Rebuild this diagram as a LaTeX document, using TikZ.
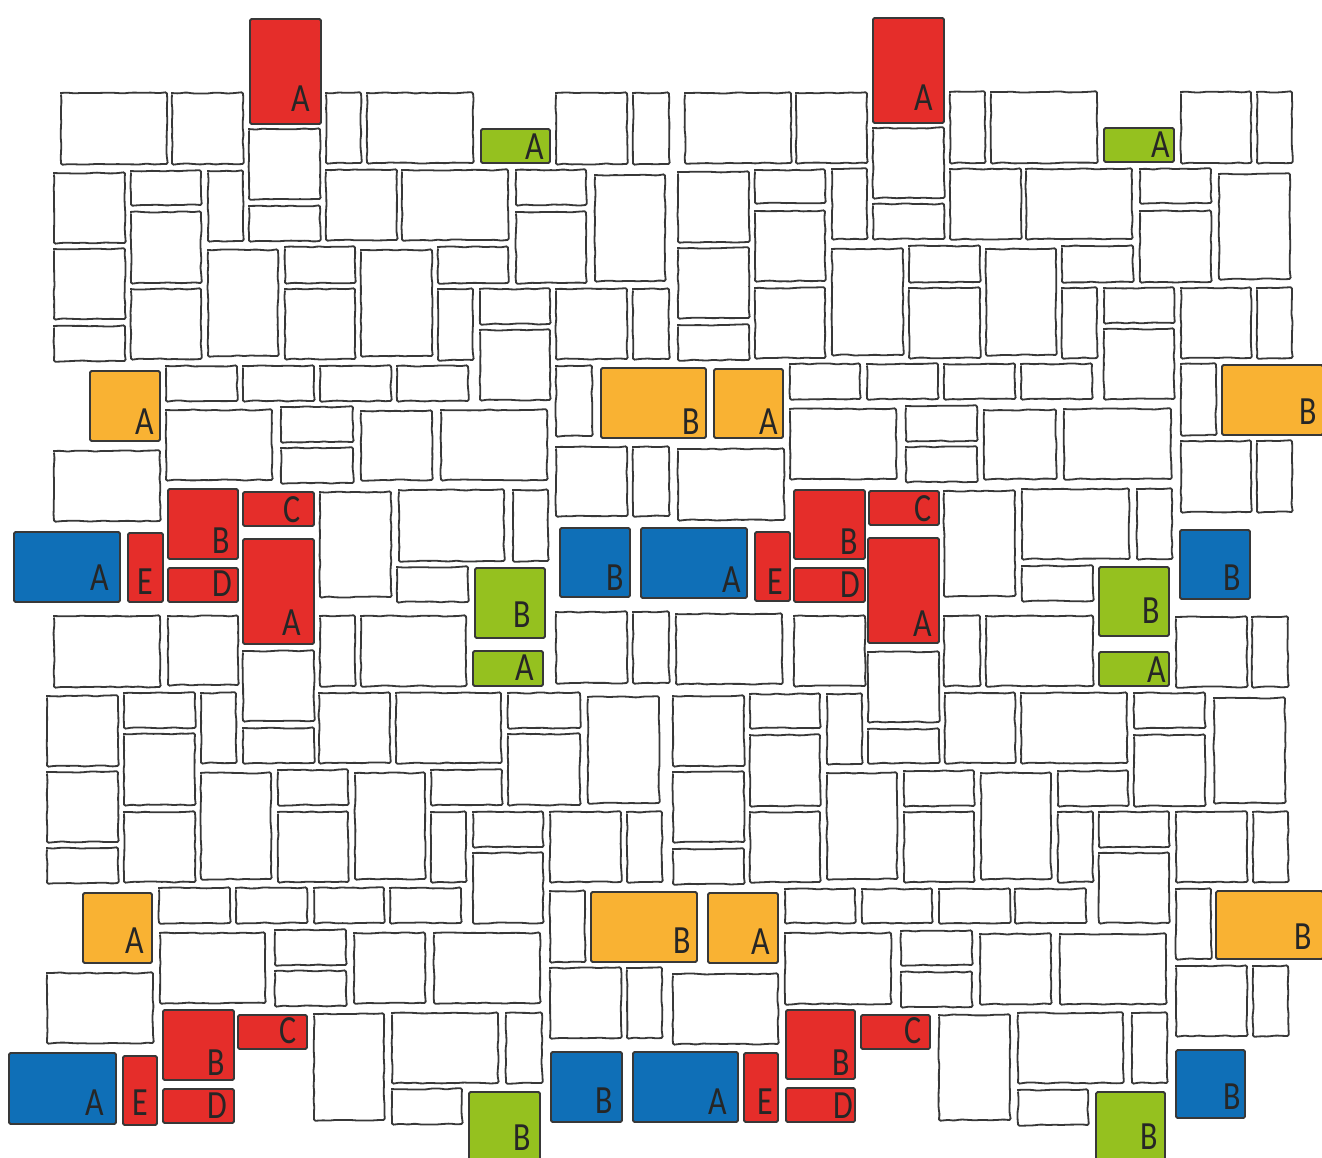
\documentclass[tikz,border=0pt]{standalone}
\usepackage{fontspec}
\setmainfont{Carlito}
\usetikzlibrary{decorations.pathmorphing}
\definecolor{brickRed}{HTML}{E52D2A}
\definecolor{brickGreen}{HTML}{95C11F}
\definecolor{brickAmber}{HTML}{F9B233}
\definecolor{brickBlue}{HTML}{0F6FB7}
\definecolor{inkGrey}{HTML}{383838}
\tikzset{
  brick/.style = {draw=inkGrey, fill=white, line width=1.8pt, rounded corners=1.5pt,
                  decorate, decoration={random steps, segment length=7pt, amplitude=.6pt}},
  paint/.style = {draw=inkGrey, line width=1.8pt, rounded corners=1.5pt},
  lbl/.style   = {font=\fontsize{40}{40}\selectfont, text=black!85, inner sep=0pt}
}
\begin{document}
\begin{tikzpicture}[x=1pt, y=-1pt]
  \useasboundingbox (0,0) rectangle (1322,1158);
  % plain bricks, left half
  \foreach \xa/\ya/\xb/\yb in {
    61/93/167/164, 172/93/243/164, 249/129/320/199, 326/93/361/163, 367/93/473/163,
    556/93/627/164, 633/93/669/164,
    54/173/125/243, 131/171/201/205, 208/171/243/241, 249/206/320/241, 326/170/397/240,
    402/170/508/240, 516/170/586/205, 595/175/665/281, 131/212/201/283,
    54/249/125/319, 208/250/278/356, 285/247/355/283, 361/250/432/356, 438/247/508/283,
    516/212/586/283, 54/326/125/361, 131/289/201/359, 285/289/355/359, 438/289/473/360,
    480/289/550/324, 480/330/550/400, 556/289/627/359, 633/289/669/359,
    166/366/237/401, 243/366/314/401, 320/366/391/401, 397/366/468/401, 556/366/592/436,
    166/410/272/480, 281/407/353/442, 281/448/353/483, 361/411/432/480, 441/410/547/480,
    54/451/160/521, 556/447/627/516, 633/447/669/516,
    320/492/391/597, 399/490/504/561, 513/490/548/561, 397/567/468/602,
    54/616/160/687, 168/616/238/685, 243/651/314/721, 320/616/355/686, 361/616/466/686,
    556/612/627/683, 633/612/669/683,
    47/696/118/766, 124/693/195/728, 201/693/236/763, 243/728/314/763, 319/693/390/763,
    396/693/501/763, 508/693/580/728, 588/697/659/803, 124/734/195/805, 47/772/118/842,
    201/773/271/879, 278/770/348/805, 355/773/425/879, 431/770/502/805, 508/734/580/805,
    47/848/118/883, 124/812/195/882, 278/812/348/882, 431/812/466/882, 473/812/543/847,
    473/853/543/923, 550/812/621/882, 627/812/662/882,
    159/888/230/923, 236/888/307/923, 314/888/384/923, 390/888/461/923, 550/891/585/962,
    160/933/265/1003, 275/930/346/965, 275/971/346/1006, 354/933/425/1003, 434/933/540/1003,
    47/973/153/1043, 550/968/621/1038, 627/968/662/1038,
    314/1014/384/1120, 392/1013/498/1083, 506/1013/542/1083, 392/1089/462/1124}
    \draw[brick] (\xa,\ya) rectangle (\xb,\yb);
  % plain bricks, right half
  \foreach \xa/\ya/\xb/\yb in {
    685/93/791/163, 796/93/867/163, 873/128/944/198, 950/92/985/163, 991/92/1097/163,
    1181/92/1251/163, 1257/92/1292/163,
    678/172/749/242, 755/170/825/203, 832/169/867/239, 873/204/944/239, 950/169/1021/239,
    1026/169/1132/239, 1140/169/1211/203, 1219/174/1290/279, 755/211/825/281,
    678/248/749/318, 832/249/903/355, 909/246/980/282, 986/249/1056/355, 1062/246/1133/282,
    1140/211/1211/282, 678/325/749/360, 755/288/825/358, 909/288/980/358, 1062/288/1097/358,
    1104/288/1174/323, 1104/329/1174/399, 1181/288/1251/358, 1257/288/1292/358,
    790/364/860/399, 867/364/938/399, 944/364/1015/399, 1021/364/1092/399, 1181/364/1216/435,
    790/409/896/479, 906/406/977/441, 906/447/977/482, 984/410/1056/479, 1064/409/1171/479,
    678/449/784/520, 1181/441/1251/512, 1257/441/1292/512,
    944/491/1015/596, 1022/489/1129/559, 1137/489/1172/559, 1022/566/1093/601,
    676/614/782/684, 794/616/865/686, 868/652/939/722, 944/616/980/686, 986/616/1093/686,
    1176/617/1247/687, 1252/617/1288/687,
    673/696/744/766, 750/694/820/728, 827/694/862/764, 868/729/939/763, 945/693/1015/763,
    1021/693/1127/763, 1134/693/1205/728, 1214/698/1285/803, 750/735/820/806, 673/772/744/842,
    827/773/897/879, 904/771/974/806, 981/773/1051/879, 1058/771/1128/806, 1134/735/1205/806,
    673/849/744/884, 750/812/820/882, 904/812/974/882, 1058/812/1093/882, 1099/812/1169/847,
    1099/853/1169/923, 1176/812/1247/882, 1253/812/1288/882,
    785/889/855/923, 862/889/932/923, 939/889/1010/923, 1015/889/1086/923, 1176/889/1211/959,
    785/933/891/1004, 901/931/972/965, 901/972/972/1007, 980/934/1051/1004, 1060/934/1166/1004,
    673/974/778/1044, 1176/966/1247/1036, 1253/966/1288/1036,
    939/1015/1010/1120, 1018/1013/1123/1083, 1132/1013/1167/1083, 1018/1090/1088/1125}
    \draw[brick] (\xa,\ya) rectangle (\xb,\yb);
  % painted bricks with their letters
  \foreach \xa/\ya/\xb/\yb/\col/\txt/\lx/\ly [count=\i] in {
    250/19/321/124/brickRed/A/301/99, 481/129/550/163/brickGreen/A/535/147,
    90/371/160/441/brickAmber/A/145/422, 601/368/706/438/brickAmber/B/691/422,
    714/369/783/438/brickAmber/A/769/422, 873/18/944/123/brickRed/A/924/98,
    1104/128/1174/162/brickGreen/A/1161/145, 1222/365/1323/435/brickAmber/B/1308/412,
    168/489/238/559/brickRed/B/221/541, 243/492/314/526/brickRed/C/292/510,
    14/532/120/602/brickBlue/A/100/578, 128/533/163/602/brickRed/E/145/582,
    168/568/238/602/brickRed/D/222/584, 243/539/314/644/brickRed/A/292/623,
    475/568/545/638/brickGreen/B/522/615, 560/528/630/597/brickBlue/B/615/578,
    641/528/747/598/brickBlue/A/732/580, 755/532/790/601/brickRed/E/775/582,
    794/490/865/559/brickRed/B/849/542, 869/491/939/525/brickRed/C/923/509,
    794/568/865/602/brickRed/D/850/585, 868/538/939/643/brickRed/A/923/624,
    1099/567/1169/636/brickGreen/B/1151/611, 1180/530/1250/599/brickBlue/B/1232/578,
    473/651/543/686/brickGreen/A/525/668, 1099/652/1169/686/brickGreen/A/1157/670,
    83/893/152/963/brickAmber/A/135/941, 591/892/697/962/brickAmber/B/682/941,
    708/893/778/963/brickAmber/A/761/942, 1216/891/1323/959/brickAmber/B/1303/937,
    163/1010/234/1080/brickRed/B/216/1063, 238/1015/307/1049/brickRed/C/288/1031,
    9/1053/116/1124/brickBlue/A/95/1103, 123/1056/157/1125/brickRed/E/140/1103,
    163/1089/234/1123/brickRed/D/217/1106, 469/1092/540/1166/brickGreen/B/522/1138,
    551/1052/622/1122/brickBlue/B/604/1101, 633/1052/738/1122/brickBlue/A/718/1102,
    744/1053/778/1122/brickRed/E/765/1102, 786/1010/855/1079/brickRed/B/841/1063,
    861/1015/930/1049/brickRed/C/913/1031, 786/1088/855/1122/brickRed/D/843/1106,
    1096/1092/1165/1166/brickGreen/B/1149/1137, 1176/1050/1245/1118/brickBlue/B/1232/1097} {
    \draw[paint, fill=\col] (\xa,\ya) rectangle (\xb,\yb);
    \node[lbl] (l\i) at (\lx,\ly) {\scalebox{.8}[1]{\txt}};
  }
\end{tikzpicture}
\end{document}
